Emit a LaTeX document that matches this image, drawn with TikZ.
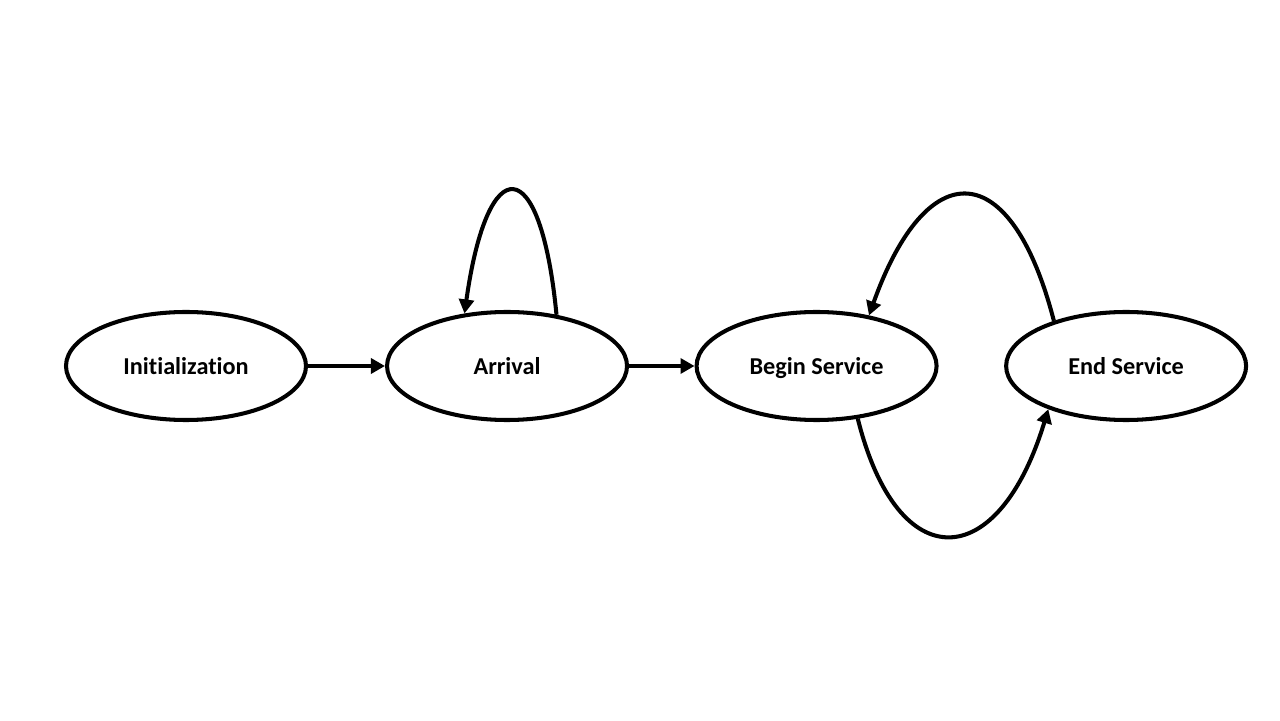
\documentclass[tikz,border=0pt]{standalone}
\usepackage{fontspec}
\setmainfont[Ligatures=NoCommon]{Carlito}
\usepackage{tikz}
\usetikzlibrary{arrows.meta,positioning,shapes.geometric}

\begin{document}
\begin{tikzpicture}[state/.style={draw,ellipse,line width=2.3pt,minimum width=4.8cm,minimum height=2.16cm,inner sep=0pt,text height=2ex,text depth=0ex,font=\fontsize{13.8}{16}\selectfont\bfseries}, link/.style={line width=2.3pt,-{Triangle[length=8pt,width=8.5pt]}}]
\useasboundingbox (0,0) rectangle (25.6,14.4);
\node[state] (init) at (3.72,7.08) {Initialization};
\node[state,right=1.54cm of init] (arr) {Arrival};
\node[state,right=1.31cm of arr] (bs) {Begin Service};
\node[state,right=1.31cm of bs] (es) {End Service};
\draw[link] (init)--(arr); \draw[link] (arr)--(bs);
\draw[link] (arr.46) .. controls +(-0.32,3.3) and +(0.46,3.28) .. (arr.129);
\draw[link] (es.148) .. controls +(-0.86,3.32) and +(1.16,3.24) .. (bs.44);
\draw[link] (bs.-52) .. controls +(0.8,-3.2) and +(-1.0,-3.3) .. (es.-151);
\end{tikzpicture}
\end{document}
